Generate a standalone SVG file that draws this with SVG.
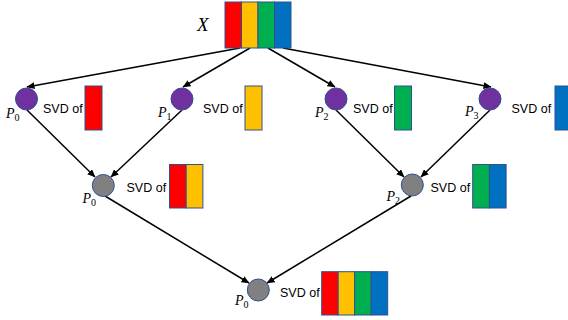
<svg xmlns="http://www.w3.org/2000/svg" width="568" height="320" viewBox="0 0 568 320">
<style>
.r{fill:#FF0000}.y{fill:#FFC000}.g{fill:#00B050}.b{fill:#0070C0}
.m rect{stroke:#2F528F;stroke-width:1}
.pc{fill:#7030A0;stroke:#2F528F;stroke-width:1}
.gc{fill:#808080;stroke:#2F528F;stroke-width:1}
.t{font-family:"Liberation Sans",Arial,sans-serif;font-size:12.5px;fill:#000}
.p{font-family:"Liberation Serif","Times New Roman",serif;font-style:italic;font-size:14px;fill:#000}
.s{font-style:normal;font-size:10px}
.e line{stroke:#000;stroke-width:1.5;marker-end:url(#a)}
</style>
<defs>
<marker id="a" markerUnits="userSpaceOnUse" markerWidth="8" markerHeight="7" refX="7.5" refY="3.5" orient="auto">
<path d="M0,0 L8,3.5 L0,7 z" fill="#000"/>
</marker>
</defs>
<g id="connectors" class="e">
<line x1="240" y1="48" x2="27" y2="87"/>
<line x1="250" y1="48" x2="183" y2="87"/>
<line x1="268" y1="48" x2="335" y2="87"/>
<line x1="283" y1="48" x2="491" y2="87"/>
<line x1="27" y1="110" x2="95" y2="177"/>
<line x1="182" y1="110" x2="111" y2="177"/>
<line x1="336" y1="110" x2="404" y2="177"/>
<line x1="490" y1="110" x2="421" y2="177"/>
<line x1="105" y1="196" x2="249" y2="283"/>
<line x1="411" y1="196" x2="267" y2="283"/>
</g>
<g id="X">
<text class="p" x="197" y="31" style="font-size:19px">X</text>
<g class="m">
<rect class="r" x="225" y="2" width="16.5" height="46"/>
<rect class="y" x="241.5" y="2" width="16.5" height="46"/>
<rect class="g" x="258" y="2" width="16.5" height="46"/>
<rect class="b" x="274.5" y="2" width="16.5" height="46"/>
</g>
</g>
<g id="L1P0">
<circle class="pc" cx="26.5" cy="99" r="11"/>
<text class="p" x="6" y="118">P<tspan class="s" dy="3">0</tspan></text>
<text class="t" x="43" y="113">SVD of</text>
<g class="m"><rect class="r" x="85" y="86" width="17" height="44"/></g>
</g>
<g id="L1P1">
<circle class="pc" cx="182" cy="99" r="11"/>
<text class="p" x="158" y="117">P<tspan class="s" dy="3">1</tspan></text>
<text class="t" x="203" y="112.5">SVD of</text>
<g class="m"><rect class="y" x="245" y="86" width="17" height="44"/></g>
</g>
<g id="L1P2">
<circle class="pc" cx="336" cy="99" r="11"/>
<text class="p" x="315" y="117">P<tspan class="s" dy="3">2</tspan></text>
<text class="t" x="353" y="112.5">SVD of</text>
<g class="m"><rect class="g" x="394.5" y="86" width="17" height="44"/></g>
</g>
<g id="L1P3">
<circle class="pc" cx="490" cy="99" r="11"/>
<text class="p" x="465" y="115.5">P<tspan class="s" dy="3">3</tspan></text>
<text class="t" x="511.5" y="112.5">SVD of</text>
<g class="m"><rect class="b" x="555" y="86" width="17" height="44"/></g>
</g>
<g id="L2P0">
<circle class="gc" cx="103.3" cy="185.5" r="11"/>
<text class="p" x="82.5" y="203">P<tspan class="s" dy="3">0</tspan></text>
<text class="t" x="126.5" y="192">SVD of</text>
<g class="m">
<rect class="r" x="169.5" y="164.5" width="16.7" height="43.5"/>
<rect class="y" x="186.2" y="164.5" width="16.7" height="43.5"/>
</g>
</g>
<g id="L2P2">
<circle class="gc" cx="412.3" cy="185" r="11"/>
<text class="p" x="386.5" y="201">P<tspan class="s" dy="3">2</tspan></text>
<text class="t" x="430.5" y="191.5">SVD of</text>
<g class="m">
<rect class="g" x="472.7" y="164.5" width="16.7" height="43.5"/>
<rect class="b" x="489.4" y="164.5" width="16.7" height="43.5"/>
</g>
</g>
<g id="L3P0">
<circle class="gc" cx="258.3" cy="290" r="11"/>
<text class="p" x="235" y="305">P<tspan class="s" dy="3">0</tspan></text>
<text class="t" x="280" y="297">SVD of</text>
<g class="m">
<rect class="r" x="321.7" y="271.7" width="16.5" height="43.3"/>
<rect class="y" x="338.2" y="271.7" width="16.5" height="43.3"/>
<rect class="g" x="354.7" y="271.7" width="16.5" height="43.3"/>
<rect class="b" x="371.2" y="271.7" width="16.5" height="43.3"/>
</g>
</g>
</svg>
